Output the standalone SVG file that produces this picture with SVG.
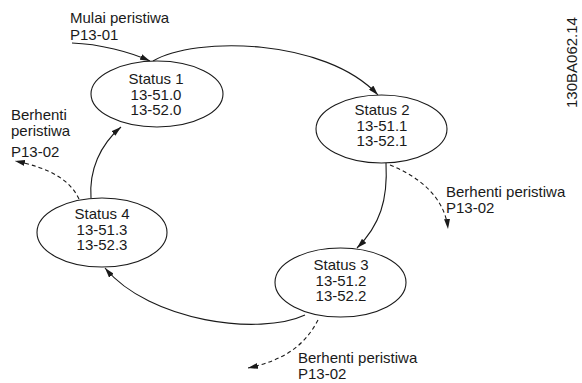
<svg xmlns="http://www.w3.org/2000/svg" width="582" height="383" viewBox="0 0 582 383">
<defs>
<marker id="ah" viewBox="0 0 10 6" refX="10" refY="3" markerWidth="10" markerHeight="6" markerUnits="userSpaceOnUse" orient="auto">
<path d="M0,0 L10,3 L0,6 Z" fill="#1a1a1a"/>
</marker>
</defs>
<style>
text{font-family:"Liberation Sans",Arial,sans-serif;font-size:15px;fill:#1a1a1a}
.c{text-anchor:middle}
ellipse{fill:#fff;stroke:#1a1a1a;stroke-width:1.1}
.e{fill:none;stroke:#1a1a1a;stroke-width:1.1;marker-end:url(#ah)}
.d{stroke-dasharray:4 3}
</style>
<rect width="582" height="383" fill="#fff"/>
<g id="connectors">
<path class="e" d="M72,43 C100,44 130,52 150,61"/>
<path class="e" d="M153,61 C195,36 325,38 378,95"/>
<path class="e" d="M386,163 C388,200 380,225 357,248"/>
<path class="e" d="M305,315 C260,336 150,322 105,268"/>
<path class="e" d="M91,198 C89,170 100,145 121,127"/>
<path class="e d" d="M79,199 C70,180 50,168 15,161"/>
<path class="e d" d="M390,165 C420,177 445,198 448,229"/>
<path class="e d" d="M318,320 C305,345 285,360 248,368"/>
</g>
<g id="status1">
<ellipse cx="157" cy="94" rx="66" ry="33"/>
<text class="c" x="156" y="84">Status 1</text>
<text class="c" x="156" y="99.5">13-51.0</text>
<text class="c" x="156" y="115">13-52.0</text>
</g>
<g id="status2">
<ellipse cx="381.5" cy="129" rx="65.5" ry="34"/>
<text class="c" x="382" y="115">Status 2</text>
<text class="c" x="382" y="130.5">13-51.1</text>
<text class="c" x="382" y="146">13-52.1</text>
</g>
<g id="status3">
<ellipse cx="340.5" cy="282.5" rx="65.5" ry="34.5"/>
<text class="c" x="341" y="270">Status 3</text>
<text class="c" x="341" y="285.5">13-51.2</text>
<text class="c" x="341" y="301">13-52.2</text>
</g>
<g id="status4">
<ellipse cx="102" cy="232.5" rx="65" ry="34.5"/>
<text class="c" x="102" y="219">Status 4</text>
<text class="c" x="102" y="234.5">13-51.3</text>
<text class="c" x="102" y="250">13-52.3</text>
</g>
<g id="label-start">
<text x="70" y="22.5">Mulai peristiwa</text>
<text x="70" y="39.5">P13-01</text>
</g>
<g id="label-stop-left">
<text x="11" y="120">Berhenti</text>
<text x="11" y="135.5">peristiwa</text>
<text x="11" y="157.3">P13-02</text>
</g>
<g id="label-stop-right">
<text x="446" y="197">Berhenti peristiwa</text>
<text x="446" y="212.5">P13-02</text>
</g>
<g id="label-stop-bottom">
<text x="298" y="363">Berhenti peristiwa</text>
<text x="298" y="378.5">P13-02</text>
</g>
<text transform="translate(577,108) rotate(-90)">130BA062.14</text>
</svg>
